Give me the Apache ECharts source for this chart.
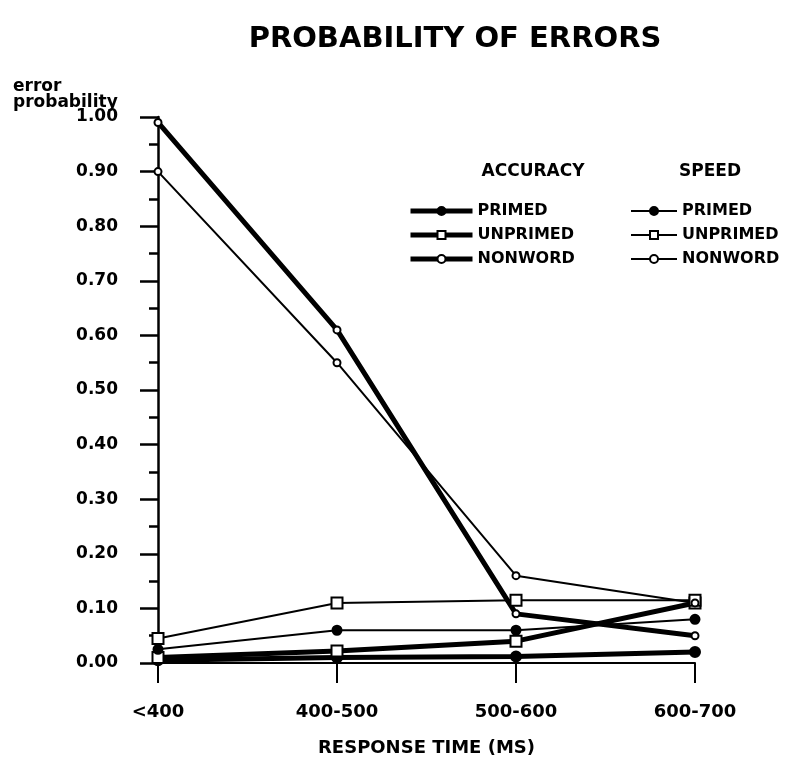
<!DOCTYPE html>
<html>
<head>
<meta charset="utf-8">
<script src="https://cdn.jsdelivr.net/npm/echarts@6/dist/echarts.min.js"></script>
<style>
  html, body { margin: 0; padding: 0; background: #fff; }
  #chart { width: 804px; height: 762px; }
</style>
</head>
<body>
<div id="chart"></div>
<script>
const categories = ['<400', '400-500', '500-600', '600-700']

// accuracy condition (thick lines)
const accPrimed = [0.005, 0.01, 0.012, 0.02]
const accUnprimed = [0.01, 0.022, 0.04, 0.11]
const accNonword = [0.99, 0.61, 0.09, 0.05]

// speed condition (thin lines)
const spdPrimed = [0.025, 0.06, 0.06, 0.08]
const spdUnprimed = [0.045, 0.11, 0.115, 0.115]
const spdNonword = [0.90, 0.55, 0.16, 0.11]

const font = 'DejaVu Sans'
const ink = '#000'

function makeSeries(name, data, width, symbol, size, filled) {
  return {
    name: name,
    type: 'line',
    data: data,
    symbol: symbol,
    symbolSize: size,
    lineStyle: { color: ink, width: width },
    itemStyle: { color: filled ? ink : '#fff', borderColor: ink, borderWidth: 2 },
    emphasis: { disabled: true },
    z: width > 3 ? 3 : 4
  }
}

const chart = echarts.init(document.getElementById('chart'))

const legendText = { fontFamily: font, fontWeight: 'bold', fontSize: 16, color: ink }
const stripPrefix = name => name.split(' ')[1]

chart.setOption({
  backgroundColor: '#fff',
  animation: false,
  title: [
    {
      text: 'PROBABILITY OF ERRORS',
      left: 450, top: 20, textAlign: 'center',
      textStyle: { fontFamily: font, fontWeight: 'bold', fontSize: 29, color: ink }
    },
    {
      text: 'error\nprobability',
      left: 8, top: 74,
      textStyle: { fontFamily: font, fontWeight: 'bold', fontSize: 17, lineHeight: 16, color: ink }
    },
    {
      text: 'ACCURACY',
      left: 528, top: 158, textAlign: 'center',
      textStyle: { fontFamily: font, fontWeight: 'bold', fontSize: 17, color: ink }
    },
    {
      text: 'SPEED',
      left: 705, top: 158, textAlign: 'center',
      textStyle: { fontFamily: font, fontWeight: 'bold', fontSize: 17, color: ink }
    }
  ],
  legend: [
    {
      data: ['Accuracy PRIMED', 'Accuracy UNPRIMED', 'Accuracy NONWORD'],
      orient: 'vertical',
      left: 403, top: 198,
      itemWidth: 62, itemHeight: 10, itemGap: 8,
      lineStyle: { width: 5 },
      formatter: stripPrefix,
      textStyle: legendText,
      selectedMode: false
    },
    {
      data: ['Speed PRIMED', 'Speed UNPRIMED', 'Speed NONWORD'],
      orient: 'vertical',
      left: 625, top: 198,
      itemWidth: 46, itemHeight: 10, itemGap: 8,
      lineStyle: { width: 2 },
      formatter: stripPrefix,
      textStyle: legendText,
      selectedMode: false
    }
  ],
  grid: { left: 158, right: 109, top: 117, bottom: 99, containLabel: false },
  xAxis: {
    type: 'category',
    data: categories,
    boundaryGap: false,
    name: 'RESPONSE TIME (MS)',
    nameLocation: 'middle',
    nameGap: 76,
    nameTextStyle: { fontFamily: font, fontWeight: 'bold', fontSize: 18, color: ink },
    axisLine: { lineStyle: { color: ink, width: 2 } },
    axisTick: { show: true, length: 20, lineStyle: { color: ink, width: 2 } },
    axisLabel: { margin: 40, fontFamily: font, fontWeight: 'bold', fontSize: 18, color: ink },
    splitLine: { show: false }
  },
  yAxis: {
    type: 'value',
    min: 0, max: 1, interval: 0.1,
    axisLine: { show: true, lineStyle: { color: ink, width: 2.5 } },
    axisTick: { show: true, length: 18, lineStyle: { color: ink, width: 2.5 } },
    minorTick: { show: true, splitNumber: 2, length: 9, lineStyle: { color: ink, width: 2.5 } },
    axisLabel: {
      margin: 40,
      formatter: v => v.toFixed(2),
      fontFamily: font, fontWeight: 'bold', fontSize: 17, color: ink
    },
    splitLine: { show: false }
  },
  series: [
    makeSeries('Accuracy PRIMED', accPrimed, 5, 'circle', 10, true),
    makeSeries('Accuracy UNPRIMED', accUnprimed, 5, 'rect', 11, false),
    makeSeries('Accuracy NONWORD', accNonword, 5, 'circle', 7, false),
    makeSeries('Speed PRIMED', spdPrimed, 2, 'circle', 9, true),
    makeSeries('Speed UNPRIMED', spdUnprimed, 2, 'rect', 11, false),
    makeSeries('Speed NONWORD', spdNonword, 2, 'circle', 7, false)
  ]
})
</script>
</body>
</html>
